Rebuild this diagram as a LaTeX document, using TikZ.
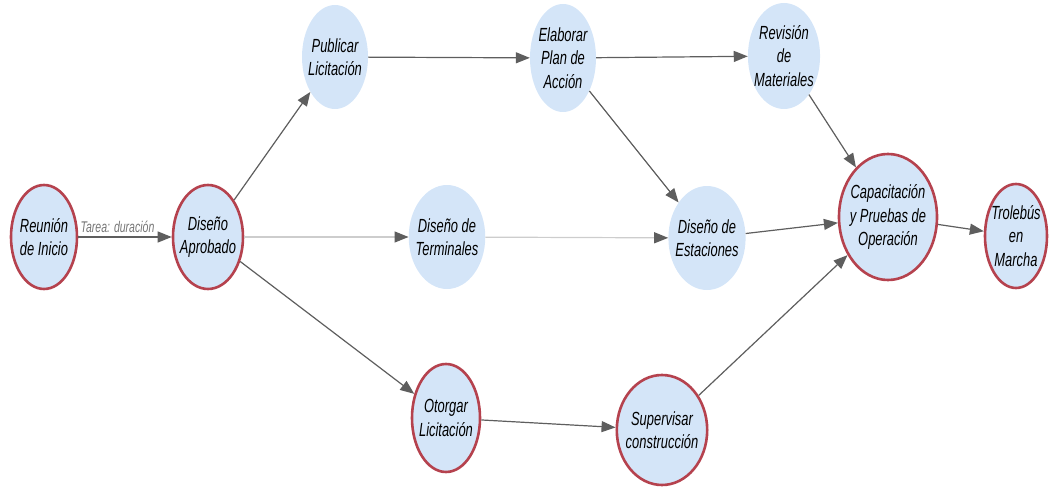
\documentclass[tikz,border=0pt]{standalone}
\usepackage{fontspec}
\setmainfont{Liberation Sans}
\newfontfamily\angosta[FakeStretch=0.68]{Liberation Sans}
\usetikzlibrary{shapes.geometric,arrows.meta}

\definecolor{relleno}{HTML}{D4E5F8}
\definecolor{borde}{HTML}{B5424E}
\definecolor{linea}{HTML}{5E5E5E}
\definecolor{lineaclara}{HTML}{CDCDCD}

\tikzset{
  tarea/.style={shape=ellipse,fill=relleno,inner sep=-4.3pt,minimum width=66pt,minimum height=104pt,
    align=center,font=\angosta\itshape\fontsize{19}{23.5}\selectfont},
  hito/.style={tarea,draw=borde,line width=2.6pt},
  flecha/.style={draw=linea,line width=1.2pt,-{Triangle[length=14pt,width=11pt,color=linea]}},
  flechaclara/.style={flecha,draw=lineaclara},
  etiqueta/.style={font=\angosta\itshape\fontsize{15.5}{17}\selectfont,text=linea!85}
}

\begin{document}
\begin{tikzpicture}[x=1pt,y=-1pt]
\useasboundingbox (0,0) rectangle (1053,495);
\node[hito] (inicio) at (44,237) {Reunión\\de Inicio};
\node[hito,minimum width=70pt] (aprobado) at (208,237) {Diseño\\Aprobado};
\node[tarea] (publicar) at (335,57) {Publicar\\Licitación};
\node[tarea,minimum height=108pt] (plan) at (563,58) {Elaborar\\Plan de\\Acción};
\node[tarea,minimum width=68pt,minimum height=106pt] (revision) at (784,56) {Revisión\\de\\Materiales};
\node[tarea,minimum width=67pt] (terminales) at (447,237) {Diseño de\\Terminales};
\node[tarea,minimum width=70pt] (estaciones) at (707,238) {Diseño de\\Estaciones};
\node[hito,minimum width=98pt,minimum height=126pt] (pruebas) at (888,217) {Capacitación\\y Pruebas de\\Operación};
\node[hito,minimum width=62pt] (marcha) at (1016,236) {Trolebús\\en\\Marcha};
\node[hito,minimum width=68pt,minimum height=108pt] (otorgar) at (446,418) {Otorgar\\Licitación};
\node[hito,minimum width=89pt,minimum height=110pt] (supervisar) at (662,430) {Supervisar\\construcción};
\path [flecha] (inicio) edge node[above,pos=0.42,etiqueta] {Tarea: duración} (aprobado);
\path [flecha] (aprobado) edge (publicar);
\path [flechaclara] (aprobado) edge (terminales);
\path [flecha] (aprobado) edge (otorgar);
\path [flecha] (publicar) edge (plan);
\path [flecha] (plan) edge (revision);
\path [flecha] (plan) edge (estaciones);
\path [flechaclara] (terminales) edge (estaciones);
\path [flecha] (revision) edge (pruebas);
\path [flecha] (estaciones) edge (pruebas);
\path [flecha] (otorgar) edge (supervisar);
\path [flecha] (supervisar) edge (pruebas);
\path [flecha] (pruebas) edge (marcha);
\end{tikzpicture}
\end{document}
